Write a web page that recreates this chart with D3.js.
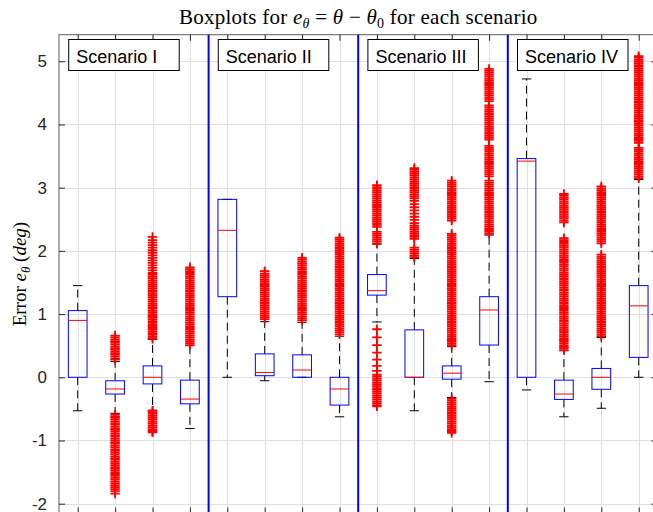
<!DOCTYPE html>
<html>
<head>
<meta charset="utf-8">
<script src="https://cdn.jsdelivr.net/npm/d3@7"></script>
<style>
  html, body { margin: 0; padding: 0; background: #fff; }
  svg { display: block; }
</style>
</head>
<body>
<svg id="chart" width="653" height="512"></svg>
<script>
// Box positions (one per scenario/estimator combination)
const boxes = [1, 2, 3, 4, 5, 6, 7, 8, 9, 10, 11, 12, 13, 14, 15, 16];

// Five-number summaries of e_theta (deg) for each box
const lowerWhisker = [-0.53, -0.57, -0.52, -0.81, 0.00, -0.055, 0.00, -0.625, 0.875, -0.53, -0.32, -0.07, -0.20, -0.625, -0.49, 0.00];
const q1           = [0.00, -0.265, -0.105, -0.42, 1.275, 0.025, 0.00, -0.44, 1.30, 0.00, -0.03, 0.51, 0.00, -0.35, -0.19, 0.315];
const medians      = [0.90, -0.185, 0.00, -0.345, 2.325, 0.075, 0.115, -0.185, 1.37, 0.00, 0.065, 1.065, 3.42, -0.265, 0.00, 1.13];
const q3           = [1.055, -0.055, 0.18, -0.045, 2.815, 0.37, 0.355, 0.00, 1.625, 0.75, 0.18, 1.275, 3.46, -0.045, 0.14, 1.45];
const upperWhisker = [1.45, 0.25, 0.60, 0.50, 2.815, 0.88, 0.87, 0.65, 2.105, 1.88, 0.485, 2.25, 4.72, 0.42, 0.63, 3.13];

// Outlying observations for each box
const outliers = [
  [],
  [0.28, 0.30, 0.33, 0.36, 0.38, 0.41, 0.44, 0.46, 0.49, 0.52, 0.55, 0.57, 0.60, 0.63, 0.66,
   -0.59, -0.62, -0.64, -0.67, -0.70, -0.73, -0.75, -0.78, -0.81, -0.83, -0.86, -0.89, -0.92, -0.94, -0.97,
   -1.00, -1.03, -1.05, -1.08, -1.11, -1.14, -1.16, -1.19, -1.22, -1.25, -1.28, -1.30, -1.33, -1.36, -1.39,
   -1.42, -1.44, -1.47, -1.50, -1.53, -1.56, -1.59, -1.62, -1.65, -1.68, -1.71, -1.74, -1.77, -1.80, -1.84],
  [0.61, 0.64, 0.67, 0.69, 0.72, 0.75, 0.78, 0.81, 0.83, 0.86, 0.89, 0.92, 0.95, 0.97, 1.00, 1.03, 1.06,
   1.09, 1.11, 1.14, 1.17, 1.20, 1.23, 1.26, 1.29, 1.32, 1.35, 1.38, 1.41, 1.44, 1.47, 1.50, 1.53, 1.56,
   1.59, 1.62, 1.65, 1.69, 1.73, 1.77, 1.81, 1.85, 1.89, 1.93, 1.97, 2.01, 2.05, 2.09, 2.13, 2.17, 2.22,
   -0.53, -0.55, -0.58, -0.61, -0.64, -0.67, -0.70, -0.73, -0.76, -0.79, -0.82, -0.85, -0.87],
  [0.51, 0.54, 0.57, 0.60, 0.63, 0.66, 0.69, 0.72, 0.75, 0.78, 0.81, 0.84, 0.87, 0.90, 0.93, 0.96, 0.99,
   1.02, 1.05, 1.08, 1.11, 1.14, 1.17, 1.20, 1.23, 1.26, 1.29, 1.32, 1.35, 1.38, 1.41, 1.44, 1.47, 1.50,
   1.53, 1.56, 1.59, 1.62, 1.65, 1.68, 1.71, 1.74],
  [],
  [0.92, 0.95, 0.98, 1.01, 1.04, 1.07, 1.10, 1.13, 1.16, 1.19, 1.22, 1.25, 1.28, 1.31, 1.34, 1.37, 1.40,
   1.43, 1.46, 1.49, 1.52, 1.55, 1.58, 1.61, 1.64, 1.68],
  [0.90, 0.93, 0.96, 0.99, 1.02, 1.05, 1.08, 1.11, 1.14, 1.17, 1.20, 1.23, 1.26, 1.29, 1.32, 1.35, 1.38,
   1.41, 1.44, 1.47, 1.50, 1.53, 1.56, 1.59, 1.62, 1.65, 1.68, 1.71, 1.74, 1.77, 1.80, 1.83, 1.86, 1.89],
  [0.68, 0.71, 0.74, 0.77, 0.80, 0.83, 0.86, 0.89, 0.92, 0.95, 0.98, 1.01, 1.04, 1.07, 1.10, 1.13, 1.16,
   1.19, 1.22, 1.25, 1.28, 1.31, 1.34, 1.37, 1.40, 1.43, 1.46, 1.49, 1.52, 1.55, 1.58, 1.61, 1.64, 1.67,
   1.70, 1.73, 1.76, 1.79, 1.82, 1.85, 1.88, 1.91, 1.94, 1.97, 2.00, 2.03, 2.06, 2.09, 2.12, 2.15, 2.18, 2.21],
  [2.12, 2.15, 2.18, 2.21, 2.24, 2.27, 2.30, 2.38, 2.41, 2.44, 2.47, 2.50, 2.53, 2.56, 2.59, 2.62, 2.65,
   2.68, 2.71, 2.74, 2.77, 2.80, 2.83, 2.86, 2.89, 2.92, 2.95, 2.98, 3.01, 3.04,
   0.76, 0.63, 0.51, 0.39, 0.28, 0.18, 0.10, 0.04, 0.01, -0.02, -0.05, -0.08, -0.11, -0.14, -0.17, -0.20,
   -0.23, -0.26, -0.29, -0.32, -0.35, -0.38, -0.41, -0.44, -0.46],
  [1.90, 1.93, 1.96, 1.99, 2.02, 2.05, 2.19, 2.22, 2.25, 2.28, 2.31, 2.34, 2.37, 2.40, 2.44, 2.49, 2.54,
   2.59, 2.64, 2.69, 2.74, 2.79, 2.83, 2.86, 2.89, 2.92, 2.95, 2.98, 3.01, 3.04, 3.07, 3.10, 3.13, 3.16,
   3.19, 3.22, 3.25, 3.28, 3.31],
  [0.50, 0.53, 0.56, 0.59, 0.62, 0.65, 0.68, 0.71, 0.74, 0.77, 0.80, 0.83, 0.86, 0.89, 0.92, 0.95, 0.98,
   1.01, 1.04, 1.07, 1.10, 1.13, 1.16, 1.19, 1.22, 1.25, 1.28, 1.31, 1.34, 1.37, 1.40, 1.43, 1.46, 1.49,
   1.52, 1.55, 1.58, 1.61, 1.64, 1.67, 1.70, 1.73, 1.76, 1.79, 1.82, 1.85, 1.88, 1.91, 1.94, 1.97, 2.00,
   2.03, 2.06, 2.09, 2.12, 2.15, 2.18, 2.21, 2.24, 2.27, 2.48, 2.51, 2.54, 2.57, 2.60, 2.63, 2.66, 2.69,
   2.72, 2.75, 2.78, 2.81, 2.84, 2.87, 2.90, 2.93, 2.96, 2.99, 3.02, 3.05, 3.08, 3.11,
   -0.34, -0.37, -0.40, -0.43, -0.46, -0.49, -0.52, -0.55, -0.58, -0.61, -0.64, -0.67, -0.70, -0.73,
   -0.76, -0.79, -0.82, -0.85, -0.88],
  [2.27, 2.30, 2.33, 2.36, 2.39, 2.42, 2.45, 2.48, 2.51, 2.54, 2.57, 2.60, 2.63, 2.66, 2.69, 2.72, 2.75,
   2.78, 2.81, 2.84, 2.87, 2.90, 2.93, 2.96, 2.99, 3.02, 3.05, 3.08, 3.11, 3.18, 3.21, 3.24, 3.27, 3.30,
   3.33, 3.36, 3.39, 3.42, 3.45, 3.48, 3.51, 3.54, 3.57, 3.60, 3.63, 3.66, 3.76, 3.79, 3.82, 3.85, 3.88,
   3.91, 3.94, 3.97, 4.00, 4.03, 4.06, 4.09, 4.12, 4.15, 4.18, 4.21, 4.24, 4.27, 4.30, 4.37, 4.40, 4.43,
   4.46, 4.49, 4.52, 4.55, 4.58, 4.61, 4.64, 4.67, 4.70, 4.73, 4.76, 4.79, 4.82, 4.85, 4.88],
  [],
  [0.43, 0.46, 0.48, 0.51, 0.54, 0.57, 0.59, 0.62, 0.65, 0.68, 0.71, 0.73, 0.76, 0.79, 0.82, 0.85, 0.88,
   0.90, 0.93, 0.96, 0.99, 1.02, 1.05, 1.08, 1.11, 1.13, 1.16, 1.19, 1.22, 1.25, 1.28, 1.31, 1.34, 1.37,
   1.39, 1.42, 1.45, 1.48, 1.51, 1.54, 1.57, 1.60, 1.63, 1.66, 1.69, 1.72, 1.75, 1.78, 1.81, 1.84, 1.87,
   1.90, 1.93, 1.96, 1.99, 2.02, 2.05, 2.08, 2.11, 2.14, 2.17, 2.20, 2.45, 2.48, 2.51, 2.54, 2.57, 2.60,
   2.63, 2.66, 2.69, 2.72, 2.75, 2.78, 2.81, 2.84, 2.87, 2.90],
  [0.65, 0.68, 0.71, 0.74, 0.77, 0.80, 0.83, 0.86, 0.89, 0.92, 0.95, 0.98, 1.01, 1.04, 1.07, 1.10, 1.13,
   1.16, 1.19, 1.22, 1.25, 1.28, 1.31, 1.34, 1.37, 1.40, 1.43, 1.46, 1.49, 1.52, 1.55, 1.58, 1.61, 1.64,
   1.67, 1.70, 1.73, 1.76, 1.79, 1.82, 1.85, 1.88, 1.91, 1.94, 2.12, 2.15, 2.18, 2.21, 2.24, 2.27, 2.30,
   2.33, 2.36, 2.39, 2.42, 2.45, 2.48, 2.51, 2.54, 2.57, 2.60, 2.63, 2.66, 2.69, 2.72, 2.75, 2.78, 2.81,
   2.84, 2.87, 2.90, 2.93, 2.96, 2.99, 3.02],
  [3.15, 3.18, 3.21, 3.24, 3.27, 3.30, 3.33, 3.36, 3.39, 3.42, 3.45, 3.48, 3.51, 3.54, 3.57, 3.60, 3.63,
   3.71, 3.74, 3.77, 3.80, 3.83, 3.86, 3.89, 3.92, 3.95, 3.98, 4.01, 4.04, 4.07, 4.10, 4.13, 4.16, 4.19,
   4.22, 4.25, 4.28, 4.31, 4.34, 4.37, 4.40, 4.43, 4.46, 4.49, 4.52, 4.55, 4.58, 4.61, 4.64, 4.67, 4.70,
   4.73, 4.76, 4.79, 4.82, 4.85, 4.88, 4.91, 4.94, 4.97, 5.00, 5.03, 5.06, 5.08]
];

// Scenario groups: label and the first box of each group
const scenarioNames = ["Scenario I", "Scenario II", "Scenario III", "Scenario IV"];
const scenarioFirstBox = [1, 5, 9, 13];
const separators = [4.5, 8.5, 12.5];
const yTicks = [-2, -1, 0, 1, 2, 3, 4, 5];

// Layout
const W = 653, H = 512;
const plot = { left: 59, right: 657.4, top: 34.7, bottom: 513.5 };
const x = d3.scaleLinear().domain([0.5, 16.5]).range([plot.left, plot.right]);
const y = d3.scaleLinear().domain([-2.155, 5.42]).range([plot.bottom, plot.top]);

const svg = d3.select("#chart");
const axisColor = "#262626";
const sans = "'Liberation Sans', Arial, Helvetica, sans-serif";
const serif = "'Liberation Serif', 'Times New Roman', serif";

// Grid
const grid = svg.append("g").attr("stroke", "#e0e0e0").attr("stroke-width", 1);
grid.selectAll("line.h").data(yTicks).join("line")
  .attr("x1", plot.left).attr("x2", plot.right)
  .attr("y1", d => Math.round(y(d)) + 0.5).attr("y2", d => Math.round(y(d)) + 0.5);
grid.selectAll("line.v").data(boxes).join("line")
  .attr("x1", d => Math.round(x(d)) + 0.5).attr("x2", d => Math.round(x(d)) + 0.5)
  .attr("y1", plot.top).attr("y2", plot.bottom);

// Axes frame with inward ticks
const yAxisL = d3.axisLeft(y).tickValues(yTicks).tickSizeInner(-6).tickSizeOuter(0).tickPadding(12).tickFormat(d3.format("d"));
const gy = svg.append("g").attr("transform", `translate(${plot.left},0)`).call(yAxisL);
gy.select(".domain").remove();
gy.selectAll("line").attr("stroke", axisColor);
gy.selectAll("text").attr("fill", axisColor).attr("font-family", sans).attr("font-size", 17).text(d => d < 0 ? "-" + Math.abs(d) : d);

const yAxisR = d3.axisRight(y).tickValues(yTicks).tickSizeInner(-6).tickSizeOuter(0).tickFormat("");
const gyr = svg.append("g").attr("transform", `translate(${plot.right},0)`).call(yAxisR);
gyr.select(".domain").remove();
gyr.selectAll("line").attr("stroke", axisColor);

const xAxisT = d3.axisTop(x).tickValues(boxes).tickSizeInner(-6).tickSizeOuter(0).tickFormat("");
const gxt = svg.append("g").attr("transform", `translate(0,${plot.top})`).call(xAxisT);
gxt.select(".domain").remove();
gxt.selectAll("line").attr("stroke", axisColor);

const xAxisB = d3.axisBottom(x).tickValues(boxes).tickSizeInner(-6).tickSizeOuter(0).tickFormat("");
const gxb = svg.append("g").attr("transform", `translate(0,${plot.bottom})`).call(xAxisB);
gxb.select(".domain").remove();
gxb.selectAll("line").attr("stroke", axisColor);

svg.append("rect")
  .attr("x", plot.left).attr("y", plot.top)
  .attr("width", plot.right - plot.left).attr("height", plot.bottom - plot.top)
  .attr("fill", "none").attr("stroke", axisColor).attr("stroke-opacity", 0.75).attr("stroke-width", 1);

// Boxplots
const capHalf = (x(1.125) - x(1));
const boxHalf = (x(1.25) - x(1));
const bp = svg.append("g");
boxes.forEach((b, i) => {
  const cx = x(b);
  const g = bp.append("g");
  // dashed whiskers
  g.append("line").attr("x1", cx).attr("x2", cx).attr("y1", y(q3[i])).attr("y2", y(upperWhisker[i]))
    .attr("stroke", "#000").attr("stroke-dasharray", "8,5");
  g.append("line").attr("x1", cx).attr("x2", cx).attr("y1", y(q1[i])).attr("y2", y(lowerWhisker[i]))
    .attr("stroke", "#000").attr("stroke-dasharray", "8,5");
  // caps
  [upperWhisker[i], lowerWhisker[i]].forEach(v => {
    g.append("line").attr("x1", cx - capHalf).attr("x2", cx + capHalf)
      .attr("y1", y(v)).attr("y2", y(v)).attr("stroke", "#000");
  });
  // box
  g.append("rect").attr("x", cx - boxHalf).attr("y", y(q3[i]))
    .attr("width", 2 * boxHalf).attr("height", Math.max(0, y(q1[i]) - y(q3[i])))
    .attr("fill", "none").attr("stroke", "#0000ff");
  // median
  g.append("line").attr("x1", cx - boxHalf).attr("x2", cx + boxHalf)
    .attr("y1", y(medians[i])).attr("y2", y(medians[i])).attr("stroke", "#ff0000");
  // outliers as '+' markers
  const m = 4.7;
  g.selectAll("path.out").data(outliers[i]).join("path")
    .attr("d", v => `M${cx - m},${y(v)}H${cx + m}M${cx},${y(v) - m}V${y(v) + m}`)
    .attr("stroke", "#ff0000").attr("stroke-width", 1.8).attr("fill", "none");
});

// Scenario separators
svg.selectAll("line.sep").data(separators).join("line")
  .attr("x1", d => x(d)).attr("x2", d => x(d))
  .attr("y1", plot.top).attr("y2", plot.bottom)
  .attr("stroke", "#0000ff").attr("stroke-width", 2);

// Scenario labels
const lab = svg.selectAll("g.scen").data(scenarioNames).join("g")
  .attr("transform", (d, i) => `translate(${x(scenarioFirstBox[i]) - 9},${39.5})`);
lab.append("rect").attr("width", 110.5).attr("height", 31)
  .attr("fill", "#fff").attr("stroke", "#000").attr("stroke-width", 1);
lab.append("text").attr("x", 7.5).attr("y", 23.5)
  .attr("font-family", sans).attr("font-size", 18).attr("fill", "#000").text(d => d);

// Title
const title = svg.append("text").attr("x", (plot.left + plot.right) / 2).attr("y", 24)
  .attr("text-anchor", "middle").attr("font-family", serif).attr("font-size", 21)
  .attr("letter-spacing", 0.25).attr("fill", "#000");
title.append("tspan").text("Boxplots for ");
title.append("tspan").attr("font-style", "italic").text("e");
title.append("tspan").attr("font-style", "italic").attr("font-size", 14).attr("dy", 4).text("θ");
title.append("tspan").attr("dy", -4).text(" = ");
title.append("tspan").attr("font-style", "italic").text("θ");
title.append("tspan").text(" − ");
title.append("tspan").attr("font-style", "italic").text("θ");
title.append("tspan").attr("font-size", 14).attr("dy", 4).text("0");
title.append("tspan").attr("dy", -4).text(" for each scenario");

// Y label
const ylab = svg.append("text")
  .attr("transform", `translate(26,${(plot.top + plot.bottom) / 2}) rotate(-90)`)
  .attr("text-anchor", "middle").attr("font-family", serif).attr("font-size", 19).attr("fill", "#000");
ylab.append("tspan").text("Error ");
ylab.append("tspan").attr("font-style", "italic").text("e");
ylab.append("tspan").attr("font-style", "italic").attr("font-size", 13).attr("dy", 4).text("θ");
ylab.append("tspan").attr("dy", -4).text(" (");
ylab.append("tspan").attr("font-style", "italic").text("deg");
ylab.append("tspan").text(")");
</script>
</body>
</html>
